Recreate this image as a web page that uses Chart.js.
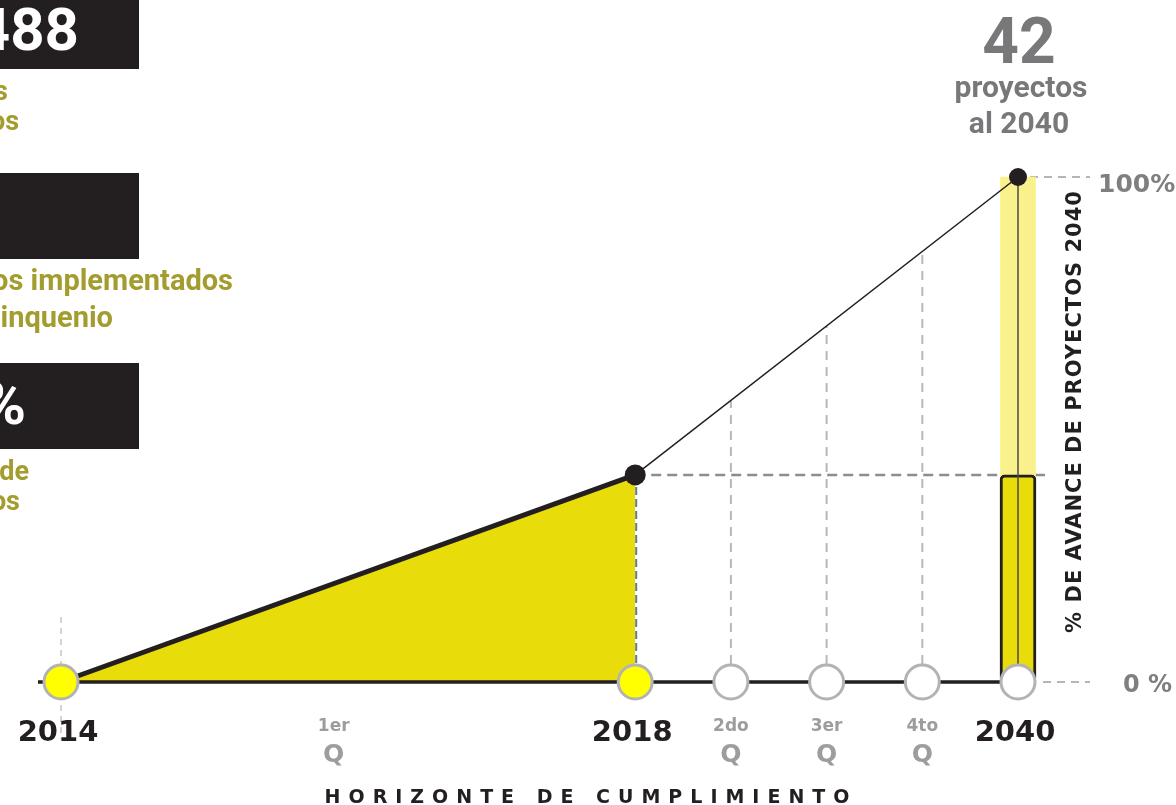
<!DOCTYPE html>
<html>
<head>
<meta charset="utf-8">
<script src="https://cdn.jsdelivr.net/npm/chart.js@4.4.0/dist/chart.umd.min.js"></script>
<style>
  html, body { margin: 0; padding: 0; background: #fff; }
  body { width: 1176px; height: 805px; overflow: hidden; position: relative; font-family: Roboto, "Noto Sans", sans-serif; }
  #chart { position: absolute; left: 0; top: 0; }
  .box { position: absolute; left: 0; width: 139px; background: #231f20; }
  .num { position: absolute; color: #fff; font-weight: 700; line-height: 1; white-space: nowrap; }
  .cap { position: absolute; color: #a39c2e; font-weight: 700; line-height: 1; white-space: nowrap; }
  .head { position: absolute; width: 200px; text-align: center; color: #78787a; font-weight: 700; line-height: 1; white-space: nowrap; }
</style>
</head>
<body>
  <canvas id="chart" width="1176" height="805"></canvas>

  <!-- bloques de resumen (recortados a la izquierda) -->
  <div class="box" style="top:0;height:69px"></div>
  <div class="num" style="right:1097px;top:0;font-size:60px">1488</div>
  <div class="cap" style="right:1168px;top:78px;font-size:27px">proyectos</div>
  <div class="cap" style="right:1157px;top:108px;font-size:27px">identificados</div>

  <div class="box" style="top:173px;height:86px"></div>
  <div class="cap" style="right:943px;top:266px;font-size:29px">proyectos implementados</div>
  <div class="cap" style="right:1063px;top:303px;font-size:29px">en el quinquenio</div>

  <div class="box" style="top:363px;height:86px"></div>
  <div class="num" style="right:1150px;top:374px;font-size:60px">8%</div>
  <div class="cap" style="right:1147px;top:458px;font-size:27px">avance de</div>
  <div class="cap" style="right:1156px;top:488px;font-size:27px">proyectos</div>

  <div class="head" style="left:919px;top:10px;font-size:64px">42</div>
  <div class="head" style="left:921px;top:72px;font-size:30px">proyectos</div>
  <div class="head" style="left:919px;top:108px;font-size:30px">al 2040</div>

<script>
// Hitos del horizonte de cumplimiento y su paso en la línea de tiempo
const milestones = ['2014', '1er Q', '2018', '2do Q', '3er Q', '4to Q', '2040'];
const timelineStep = [0, 2.85, 6, 7, 8, 9, 10];
const yearMilestones = ['2014', '2018', '2040'];
const markedMilestones = ['2014', '2018', '2do Q', '3er Q', '4to Q', '2040'];
const reachedMilestones = ['2014', '2018'];

// % de avance de proyectos 2040
const advanceAchieved = [0, 41];    // 2014 -> 2018
const advanceProjected = [41, 100]; // 2018 -> 2040
const yTicks = [0, 100];
const yTickLabels = ['0 %', '100%'];

const yAxisTitle = '% DE AVANCE DE PROYECTOS 2040';
const xAxisTitle = 'HORIZONTE DE CUMPLIMIENTO';

const INK = '#231f20';
const YELLOW = '#e8dc0b';
const BOLD = '"DejaVu Sans", "Liberation Sans", Arial, sans-serif';

const step = m => timelineStep[milestones.indexOf(m)];

function dashed(ctx, x1, y1, x2, y2, color, width, dash) {
  ctx.save();
  ctx.strokeStyle = color;
  ctx.lineWidth = width;
  ctx.setLineDash(dash);
  ctx.beginPath();
  ctx.moveTo(x1, y1);
  ctx.lineTo(x2, y2);
  ctx.stroke();
  ctx.restore();
}

// guías punteadas detrás de las series
const guides = {
  id: 'guides',
  beforeDatasetsDraw(chart) {
    const { ctx, scales: { x, y } } = chart;
    const y0 = y.getPixelForValue(0);
    const yNow = y.getPixelForValue(advanceAchieved[1]);
    const yEnd = y.getPixelForValue(100);
    const xEnd = x.getPixelForValue(step('2040'));

    dashed(ctx, x.getPixelForValue(step('2014')), y0 - 65, x.getPixelForValue(step('2014')), y0 + 57, '#c6c6c6', 1.5, [6, 5]);
    dashed(ctx, x.getPixelForValue(step('2018')), yNow, xEnd + 27, yNow, '#8d8d8d', 2.5, [10, 6]);
    dashed(ctx, xEnd + 12, yEnd, xEnd + 72, yEnd, '#b5b5b5', 2, [8, 6]);
    dashed(ctx, xEnd + 25, y0, xEnd + 72, y0, '#b5b5b5', 2, [8, 6]);

    // verticales de los quinquenios hasta la proyección
    const proj = chart.getDatasetMeta(3).data;
    const p1 = proj[0], p2 = proj[1];
    ['2do Q', '3er Q', '4to Q'].forEach(m => {
      const px = x.getPixelForValue(step(m));
      const t = (px - p1.x) / (p2.x - p1.x);
      const top = p1.y + t * (p2.y - p1.y);
      dashed(ctx, px, y0 - 18, px, top, '#b8b8b8', 2, [9, 7]);
    });
  },
  afterDatasetDraw(chart, args) {
    if (args.index !== 2) return;
    const { ctx, scales: { x, y } } = chart;
    const y0 = y.getPixelForValue(0);
    const x18 = x.getPixelForValue(step('2018'));
    dashed(ctx, x18 + 1, y.getPixelForValue(advanceAchieved[1]), x18 + 1, y0, '#5d7d8c', 2, [8, 4]);
    // línea base del horizonte
    ctx.save();
    ctx.strokeStyle = INK;
    ctx.lineWidth = 3.5;
    ctx.beginPath();
    ctx.moveTo(x.getPixelForValue(step('2014')) - 23, y0);
    ctx.lineTo(x.getPixelForValue(step('2040')) - 5, y0);
    ctx.stroke();
    ctx.restore();
  }
};

// etiquetas de ejes dibujadas con las escalas
const labels = {
  id: 'labels',
  afterDraw(chart) {
    const { ctx, scales: { x, y } } = chart;
    ctx.save();
    ctx.textBaseline = 'alphabetic';
    ctx.textAlign = 'center';
    milestones.forEach(m => {
      const px = x.getPixelForValue(step(m));
      if (yearMilestones.includes(m)) {
        ctx.fillStyle = INK;
        ctx.font = `bold 29px ${BOLD}`;
        ctx.fillText(m, px - 3, 741);
      } else {
        const [ord, q] = m.split(' ');
        ctx.fillStyle = '#9d9d9f';
        ctx.font = `bold 17px ${BOLD}`;
        ctx.fillText(ord, px, 731);
        ctx.font = `bold 25px ${BOLD}`;
        ctx.fillText(q, px, 762);
      }
    });

    ctx.textAlign = 'left';
    ctx.fillStyle = '#7f7f81';
    yTicks.forEach((v, i) => {
      const py = y.getPixelForValue(v);
      if (v === 100) {
        ctx.font = `bold 25px ${BOLD}`;
        ctx.fillText(yTickLabels[i], 1098, py + 15);
      } else {
        ctx.font = `bold 24px ${BOLD}`;
        ctx.fillText(yTickLabels[i], 1123, py + 10);
      }
    });

    // título vertical
    ctx.save();
    ctx.translate(1081, (y.getPixelForValue(0) + y.getPixelForValue(100)) / 2 - 18);
    ctx.rotate(-Math.PI / 2);
    ctx.textAlign = 'center';
    ctx.fillStyle = INK;
    ctx.font = `bold 21px ${BOLD}`;
    ctx.letterSpacing = '1px';
    ctx.fillText(yAxisTitle, 0, 0);
    ctx.restore();

    // título horizontal
    ctx.textAlign = 'center';
    ctx.fillStyle = INK;
    ctx.font = `bold 19px ${BOLD}`;
    ctx.letterSpacing = '8px';
    ctx.fillText(xAxisTitle, 591, 803);
    ctx.restore();
  }
};

new Chart(document.getElementById('chart'), {
  data: {
    datasets: [
      { // meta 2040
        type: 'bar',
        data: [{ x: step('2040'), y: advanceProjected[1] }],
        backgroundColor: '#f9f18c',
        barThickness: 35,
        grouped: false,
        clip: false,
        order: 6
      },
      { // avance alcanzado
        type: 'bar',
        data: [{ x: step('2040'), y: advanceAchieved[1] }],
        backgroundColor: YELLOW,
        borderColor: INK,
        borderWidth: 3,
        borderRadius: 5,
        borderSkipped: false,
        barThickness: 36,
        grouped: false,
        clip: false,
        order: 5
      },
      { // área 2014 - 2018
        type: 'line',
        data: [
          { x: step('2014'), y: advanceAchieved[0] },
          { x: step('2018'), y: advanceAchieved[1] }
        ],
        borderColor: INK,
        borderWidth: 5,
        backgroundColor: YELLOW,
        fill: 'origin',
        pointRadius: 0,
        clip: false,
        order: 4
      },
      { // proyección 2018 - 2040
        type: 'line',
        data: [
          { x: step('2018'), y: advanceProjected[0] },
          { x: step('2040'), y: advanceProjected[1] }
        ],
        borderColor: INK,
        borderWidth: 1.5,
        pointRadius: [10.5, 9],
        pointBackgroundColor: INK,
        pointBorderWidth: 0,
        clip: false,
        order: 2
      },
      { // eje de la barra 2040
        type: 'line',
        data: [
          { x: step('2040'), y: 0 },
          { x: step('2040'), y: 100 }
        ],
        borderColor: '#4d4a45',
        borderWidth: 1.5,
        pointRadius: 0,
        clip: false,
        order: 3
      },
      { // hitos
        type: 'line',
        showLine: false,
        data: markedMilestones.map(m => ({ x: step(m), y: 0 })),
        pointRadius: 17,
        pointBorderWidth: 3,
        pointBorderColor: '#b3b3b5',
        pointBackgroundColor: markedMilestones.map(m => reachedMilestones.includes(m) ? '#ffff00' : '#ffffff'),
        clip: false,
        order: 0
      }
    ]
  },
  options: {
    responsive: false,
    devicePixelRatio: 1,
    animation: false,
    layout: { padding: { left: 61, right: 158, top: 177, bottom: 123 } },
    plugins: { legend: { display: false }, tooltip: { enabled: false } },
    scales: {
      x: { type: 'linear', min: 0, max: 10, offset: false, display: false },
      y: { min: 0, max: 100, display: false }
    }
  },
  plugins: [guides, labels]
});
</script>
</body>
</html>
